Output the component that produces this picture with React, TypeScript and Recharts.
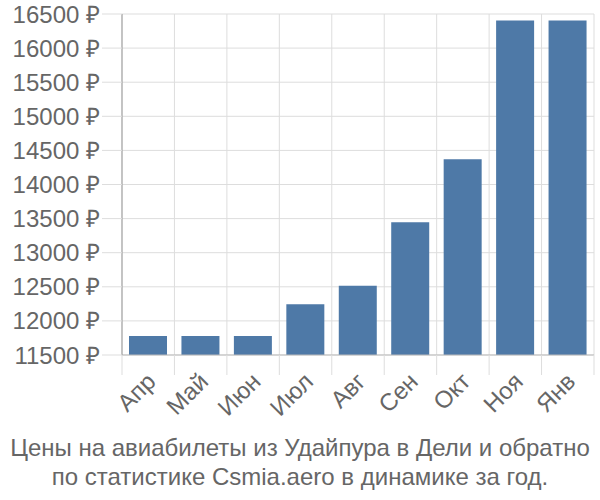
import { BarChart, Bar, XAxis, YAxis, CartesianGrid } from 'recharts';

const months = ['Апр', 'Май', 'Июн', 'Июл', 'Авг', 'Сен', 'Окт', 'Ноя', 'Янв'];
const prices = [11780, 11780, 11780, 12245, 12515, 13445, 14370, 16405, 16405];
const yTicks = [11500, 12000, 12500, 13000, 13500, 14000, 14500, 15000, 15500, 16000, 16500];

const data = months.map((m, i) => ({ month: m, price: prices[i] }));

const W = 600;
const H = 430;
const M = { top: 14, right: 6, left: 0, bottom: 0 };
const Y_W = 122;
const X_H = 75;
const PLOT_W = W - M.left - M.right - Y_W;
const BAND = PLOT_W / months.length;
const TICK = 20;
const TICK_MARGIN = 4;
const FONT = '"Liberation Sans", Arial, sans-serif';
const FS = 24;

const MonthTick = (props: any) => {
  const { x, y, payload, index } = props;
  const top = y - TICK - TICK_MARGIN;
  const left = x - BAND / 2;
  const lx = x + 3;
  const ly = y - 2;
  return (
    <g>
      <line x1={left} x2={left} y1={top} y2={top + TICK} stroke="#ddd" />
      {index === months.length - 1 && (
        <line x1={x + BAND / 2} x2={x + BAND / 2} y1={top} y2={top + TICK} stroke="#ddd" />
      )}
      <text
        x={lx}
        y={ly}
        textAnchor="end"
        dominantBaseline="central"
        transform={`rotate(-45 ${lx} ${ly})`}
        fill="#666"
        fontSize={FS}
        fontFamily={FONT}
      >
        {payload.value}
      </text>
    </g>
  );
};

export default function App() {
  return (
    <div style={{ position: 'absolute', left: 0, top: 0, width: W, height: 500, background: '#fff' }}>
      <BarChart width={W} height={H} data={data} margin={M}>
        <CartesianGrid
          stroke="#ddd"
          strokeWidth={1}
          verticalCoordinatesGenerator={({ offset }: any) =>
            months.map((_, i) => offset.left + i * (offset.width / months.length)).concat([offset.left + offset.width])
          }
        />
        <XAxis
          dataKey="month"
          height={X_H}
          interval={0}
          tickSize={TICK}
          tickMargin={TICK_MARGIN}
          tickLine={false}
          axisLine={{ stroke: '#bbb' }}
          tick={<MonthTick />}
        />
        <YAxis
          width={Y_W}
          domain={[11500, 16500]}
          ticks={yTicks}
          interval={0}
          tickSize={TICK}
          tickMargin={2}
          tickLine={{ stroke: '#ddd' }}
          axisLine={{ stroke: '#999' }}
          tickFormatter={(v: number) => `${v} ₽`}
          tick={{ fill: '#666', fontSize: FS, fontFamily: FONT }}
        />
        <Bar dataKey="price" fill="#4e79a7" barSize={38} isAnimationActive={false} />
      </BarChart>
      <div
        style={{
          position: 'absolute',
          left: 0,
          top: 433,
          width: W,
          textAlign: 'center',
          fontFamily: FONT,
          fontSize: FS,
          lineHeight: '29px',
          color: '#666',
        }}
      >
        Цены на авиабилеты из Удайпура в Дели и обратно
        <br />
        по статистике Csmia.aero в динамике за год.
      </div>
    </div>
  );
}
